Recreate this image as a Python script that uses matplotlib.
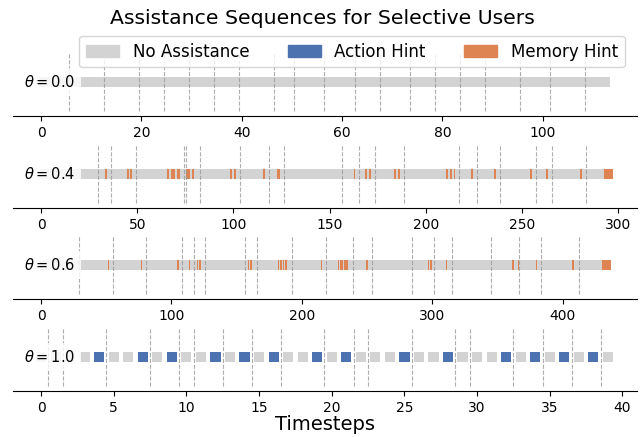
import itertools
import matplotlib
matplotlib.use("Agg")
import matplotlib.pyplot as plt

# colours for the three assistance types
NONE, ACTION, MEMORY = 0, 1, 2
colors = {NONE: "#d3d3d3", ACTION: "#4c72b0", MEMORY: "#dd8452"}
names = {NONE: "No Assistance", ACTION: "Action Hint", MEMORY: "Memory Hint"}

# one row per selectivity level
thetas = ["0.0", "0.4", "0.6", "1.0"]
n_steps = [114, 298, 438, 40]

memory_04 = [34, 45, 47, 66, 68, 69, 71, 72, 76, 77, 79, 99, 101, 116, 123, 124,
             163, 169, 171, 184, 186, 211, 213, 215, 224, 236, 255, 263, 281,
             293, 294, 295, 296, 297]
memory_06 = [52, 77, 105, 114, 120, 122, 159, 161, 182, 184, 186, 188, 215,
             228, 230, 231, 233, 234, 235, 250, 297, 299, 311, 362, 366, 380,
             408, 431, 432, 433, 434, 435, 436, 437]
action_10 = [4, 7, 9, 12, 14, 16, 19, 21, 25, 28, 32, 34, 36, 38]

hints = [{}, {MEMORY: memory_04}, {MEMORY: memory_06}, {ACTION: action_10}]

# episode boundaries (dashed lines)
bounds_00 = [5.5, 12.5, 19.5, 24.5, 29.5, 34.5, 39.5, 46.5, 50.5, 56.5, 62.5,
             67.5, 73.5, 78.5, 83.5, 88.5, 95.5, 101.5, 108.5]
bounds_04 = [29.5, 36.5, 49.5, 74.5, 75.5, 82.5, 103.5, 118.5, 126.5, 156.5,
             165.5, 173.5, 188.5, 217.5, 226.5, 238.5, 257.5, 265.5, 283.5]
bounds_06 = [29.5, 55.5, 80.5, 108.5, 117.5, 125.5, 156.5, 165.5, 192.5, 218.5,
             239.5, 253.5, 284.5, 301.5, 315.5, 345.5, 366.5, 383.5, 412.5]
bounds_10 = [0.5, 1.5, 4.5, 7.5, 9.5, 10.5, 12.5, 14.5, 16.5, 19.5, 21.5, 22.5,
             25.5, 28.5, 29.5, 32.5, 34.5, 36.5, 38.5]
bounds = [bounds_00, bounds_04, bounds_06, bounds_10]

# x ranges shown on each row
xlims = [(-5.6, 118.8), (-14.6, 309.9), (-21.5, 457.1), (-1.93, 41.0)]

fig = plt.figure(figsize=(6.44, 4.37), dpi=100)

W, H = 644.0, 437.0
spine_px = [116, 208, 299, 391]
axes = []
for i, theta in enumerate(thetas):
    ax = fig.add_axes([13 / W, 1 - spine_px[i] / H, 624 / W, 68 / H])
    axes.append(ax)

    seq = [NONE] * n_steps[i]
    for kind, steps in hints[i].items():
        for t in steps:
            seq[t] = kind

    if theta == "1.0":
        # short sequence: one square per step
        ax.bar(range(len(seq)), 0.3, width=0.7, bottom=-0.15,
               color=[colors[k] for k in seq], linewidth=0)
    else:
        # long sequence: contiguous runs
        t0 = 0
        for kind, grp in itertools.groupby(seq):
            n = len(list(grp))
            ax.broken_barh([(t0 - 0.5, n)], (-0.15, 0.3), color=colors[kind],
                           linewidth=0)
            t0 += n

    ax.vlines(bounds[i], -0.85, 0.85, colors="#999999", linestyles="--",
              linewidth=0.8, alpha=0.8)

    ax.set_xlim(*xlims[i])
    ax.set_ylim(-1, 1)
    ax.set_yticks([])
    for s in ["left", "right", "top"]:
        ax.spines[s].set_visible(False)
    ax.tick_params(axis="x", labelsize=10)
    ax.text(0.0994, 0.5, r"$\theta = %s$" % theta, transform=ax.transAxes,
            ha="right", va="center", fontsize=10.5, zorder=5,
            bbox=dict(facecolor="white", alpha=0.8, edgecolor="none"))

axes[-1].set_xlabel("Timesteps", fontsize=14, labelpad=0)

fig.text(0.5, 1 - 19 / H, "Assistance Sequences for Selective Users",
         ha="center", va="center", fontsize=14.7)

handles = [plt.Rectangle((0, 0), 1, 1, color=colors[k]) for k in [NONE, ACTION, MEMORY]]
fig.legend(handles, [names[k] for k in [NONE, ACTION, MEMORY]], ncol=3,
           loc="upper center", bbox_to_anchor=(352 / W, 1 - 36 / H),
           fontsize=12, borderaxespad=0, columnspacing=2.3)

fig.savefig("out.png", dpi=100)
